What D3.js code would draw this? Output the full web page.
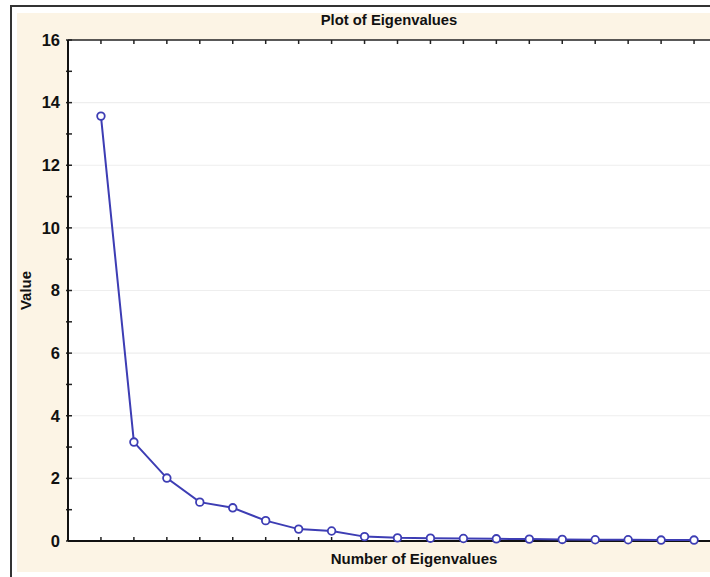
<!DOCTYPE html>
<html>
<head>
<meta charset="utf-8">
<script src="https://cdn.jsdelivr.net/npm/d3@7"></script>
<style>
  body { margin: 0; background: #fff; }
  svg text { font-family: "Liberation Sans", Arial, sans-serif; font-weight: bold; fill: #111; }
</style>
</head>
<body>
<div class="chart"></div>
<script>
// eigenvalue number and value
let eigenNumbers = d3.range(1, 20)
let eigenValues = [13.57, 3.16, 2.01, 1.24, 1.06, 0.65, 0.38, 0.32, 0.14, 0.1, 0.09, 0.08, 0.07, 0.06, 0.05, 0.04, 0.04, 0.03, 0.03]
let yTicks = [0, 2, 4, 6, 8, 10, 12, 14, 16]
let title = "Plot of Eigenvalues"
let xTitle = "Number of Eigenvalues"
let yTitle = "Value"

let width = 710
let height = 577
let plotL = 68, plotT = 40, plotR = 727, plotB = 541 //绘图区域，右边超出画面
let lineColor = "#3d3db4"

let svg = d3.select(".chart")
    .append("svg")
    .attr("width", width)
    .attr("height", height)

//外框和米色背景
svg.append("rect")
    .attr("x", 11).attr("y", 6)
    .attr("width", 800).attr("height", 700)
    .attr("fill", "#fff")
    .attr("stroke", "#333")
    .attr("stroke-width", 2)
svg.append("rect")
    .attr("x", 17).attr("y", 13)
    .attr("width", 800).attr("height", 559)
    .attr("fill", "#fcf4e5")

let x = d3.scaleLinear().domain([0, 20]).range([plotL, plotR])
let y = d3.scaleLinear().domain([0, 16]).range([plotB, plotT])

svg.append("rect")
    .attr("x", plotL).attr("y", plotT)
    .attr("width", plotR - plotL).attr("height", plotB - plotT)
    .attr("fill", "#fff")

//网格线
svg.append("g")
    .selectAll("line")
    .data(yTicks.slice(1, -1))
    .enter()
    .append("line")
    .attr("x1", plotL).attr("x2", plotR)
    .attr("y1", d => y(d)).attr("y2", d => y(d))
    .attr("stroke", "#eeeeee")
    .attr("stroke-width", 1.2)

//坐标轴
let yAxis = d3.axisLeft(y).tickValues(yTicks).tickSize(0).tickPadding(8)
let yg = svg.append("g").attr("transform", `translate(${plotL},0)`).call(yAxis)
yg.select(".domain").remove()
yg.selectAll("text").attr("font-size", 16.5).attr("font-family", null)

let yTickAll = d3.range(0, 17)
svg.append("g")
    .selectAll("line")
    .data(yTickAll)
    .enter()
    .append("line")
    .attr("x1", plotL - 2).attr("x2", plotL + 4)
    .attr("y1", d => y(d)).attr("y2", d => y(d))
    .attr("stroke", "#222")
    .attr("stroke-width", 1.5)

let xTicks = svg.append("g")
xTicks.selectAll("line.top")
    .data(eigenNumbers)
    .enter()
    .append("line")
    .attr("class", "top")
    .attr("x1", d => x(d)).attr("x2", d => x(d))
    .attr("y1", plotT).attr("y2", plotT + 4)
    .attr("stroke", "#222")
    .attr("stroke-width", 1.5)
xTicks.selectAll("line.bot")
    .data(eigenNumbers)
    .enter()
    .append("line")
    .attr("class", "bot")
    .attr("x1", d => x(d)).attr("x2", d => x(d))
    .attr("y1", plotB).attr("y2", plotB - 4)
    .attr("stroke", "#222")
    .attr("stroke-width", 1.5)

svg.append("line")
    .attr("x1", plotL).attr("x2", plotR)
    .attr("y1", plotT).attr("y2", plotT)
    .attr("stroke", "#222").attr("stroke-width", 1.5)
svg.append("line")
    .attr("x1", plotL).attr("x2", plotR)
    .attr("y1", plotB).attr("y2", plotB)
    .attr("stroke", "#111").attr("stroke-width", 2)
svg.append("line")
    .attr("x1", plotL).attr("x2", plotL)
    .attr("y1", plotT).attr("y2", plotB)
    .attr("stroke", "#111").attr("stroke-width", 2)

//折线和点
let points = eigenNumbers.map((n, i) => [n, eigenValues[i]])
let line = d3.line().x(d => x(d[0])).y(d => y(d[1]))
svg.append("path")
    .datum(points)
    .attr("fill", "none")
    .attr("stroke", lineColor)
    .attr("stroke-width", 2)
    .attr("d", line)
svg.append("g")
    .selectAll("circle")
    .data(points)
    .enter()
    .append("circle")
    .attr("cx", d => x(d[0]))
    .attr("cy", d => y(d[1]))
    .attr("r", 3.8)
    .attr("fill", "#fff")
    .attr("stroke", lineColor)
    .attr("stroke-width", 1.8)

//标题
svg.append("text")
    .attr("x", 389).attr("y", 25)
    .attr("text-anchor", "middle")
    .attr("font-size", 14.8)
    .text(title)
svg.append("text")
    .attr("x", 414).attr("y", 564)
    .attr("text-anchor", "middle")
    .attr("font-size", 15)
    .text(xTitle)
svg.append("text")
    .attr("transform", `translate(31,${(plotT + plotB) / 2}) rotate(-90)`)
    .attr("text-anchor", "middle")
    .attr("font-size", 15)
    .text(yTitle)
</script>
</body>
</html>
